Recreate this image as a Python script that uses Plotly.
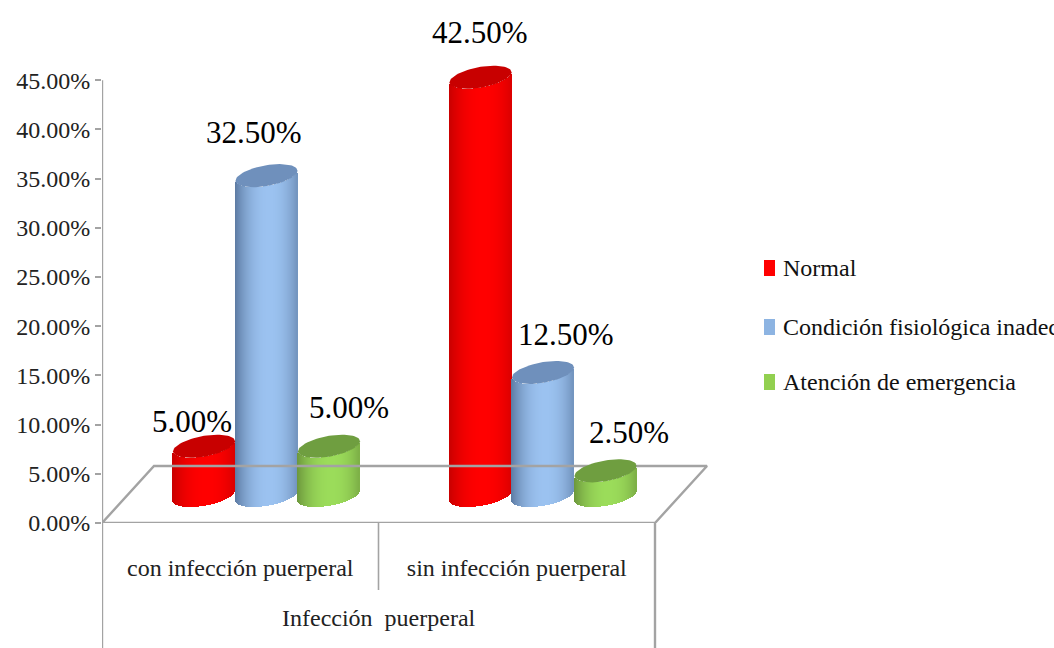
import math
import plotly.graph_objects as go

# Values in percent
categories = ["con infección puerperal", "sin infección puerperal"]
series_names = ["Normal", "Condición fisiológica inadecuada", "Atención de emergencia"]
normal = [5.0, 42.5]
condicion = [32.5, 12.5]
atencion = [5.0, 2.5]
axis_title = "Infección  puerperal"
y_ticks = [0, 5, 10, 15, 20, 25, 30, 35, 40, 45]

# Per-series styling: centre shade, edge shade, cap colour
centre_rgb = [(255, 0, 0), (155, 194, 240), (155, 220, 90)]
edge_rgb = [(200, 0, 0), (92, 122, 162), (108, 150, 60)]
cap_rgb = ["#C80000", "#6F90BC", "#6F9E40"]
swatch_rgb = ["#FF0000", "#8DB4E2", "#92D050"]

# Canvas geometry
W, H = 1054, 648
LEFT, RIGHT, BOTTOM = 102, 720, 523
PX_PER_X = 276.5
PX_PER_Y = 9.84
x_max = (RIGHT - LEFT) / PX_PER_X
y_max = BOTTOM / PX_PER_Y

# Pseudo-3D parameters, in axis units
FLOOR_LIFT = 2.8      # cylinders stand this far back on the floor
HALF_W = 31 / PX_PER_X
ELL_B = 10.4 / PX_PER_Y
ELL_S = 5.0 / PX_PER_Y
GROUP_CENTRE = 0.595
SPACING = 0.226
STRIP = 1 / PX_PER_X
N_STRIPS = 62
GRAY = "#A3A3A3"
FONT = "Liberation Sans Narrow"


def shade(u, centre, edge):
    # Lit band slightly right of the middle, falling off to both rims
    t = min(1.0, abs(u - 0.1) / 1.1) ** 2.2
    return "rgb({},{},{})".format(*[round(c + (e - c) * t) for c, e in zip(centre, edge)])


def cylinder_traces(cx, value, s):
    us = [-1 + (2 * j + 1) / N_STRIPS for j in range(N_STRIPS)]
    xs = [cx + u * HALF_W for u in us]
    base = [FLOOR_LIFT - ELL_B * math.sqrt(1 - u * u) + ELL_S * u for u in us]
    body = go.Bar(
        x=xs, y=[value] * N_STRIPS, base=base, width=STRIP * 1.6,
        marker=dict(color=[shade(u, centre_rgb[s], edge_rgb[s]) for u in us], line=dict(width=0)),
        showlegend=False, hoverinfo="skip",
    )
    ts = [2 * math.pi * k / 72 for k in range(73)]
    cap = go.Scatter(
        x=[cx + HALF_W * math.cos(t) for t in ts],
        y=[value + FLOOR_LIFT + ELL_B * math.sin(t) + ELL_S * math.cos(t) for t in ts],
        mode="lines", fill="toself", fillcolor=cap_rgb[s],
        line=dict(width=0, color=cap_rgb[s]), showlegend=False, hoverinfo="skip",
    )
    return body, cap


fig = go.Figure()

# Floor of the plot, behind the cylinders
floor_depth = (BOTTOM - 466) / PX_PER_Y
floor_run = 52 / PX_PER_X
fig.add_trace(go.Scatter(
    x=[0, floor_run, 2 + floor_run, 2, 0],
    y=[0, floor_depth, floor_depth, 0, 0],
    mode="lines", line=dict(color=GRAY, width=2.4), showlegend=False, hoverinfo="skip",
))

annotations = []
# Label nudges from each cylinder's top, in pixels
label_dx = [[-12, -13, 20], [-1, 23, 23]]
label_dy = [[25, 43, 39], [45, 38, 38]]

for i in range(len(categories)):
    for s, values in enumerate([normal, condicion, atencion]):
        cx = i + GROUP_CENTRE + (s - 1) * SPACING
        body, cap = cylinder_traces(cx, values[i], s)
        fig.add_trace(body)
        fig.add_trace(cap)
        annotations.append(dict(
            x=cx, y=values[i] + FLOOR_LIFT, xref="x", yref="y",
            text=f"{values[i]:.2f}%", showarrow=False,
            xshift=label_dx[i][s], yshift=label_dy[i][s],
            font=dict(family=FONT, size=31, color="#000000"),
        ))

# Axis title under the two-level category band
annotations.append(dict(
    x=1, y=-110 / BOTTOM, xref="x", yref="paper", text=axis_title, showarrow=False,
    font=dict(family=FONT, size=24, color="#222222"),
))

shapes = [
    # Value axis line
    dict(type="line", xref="x", yref="y", x0=0, x1=0, y0=0, y1=45, line=dict(color=GRAY, width=2.4)),
    # Front edge continuing to the zero tick is part of the floor; category separators below it
    dict(type="line", xref="x", yref="paper", x0=0, x1=0, y0=0, y1=-125 / BOTTOM, line=dict(color=GRAY, width=2.4)),
    dict(type="line", xref="x", yref="paper", x0=1, x1=1, y0=0, y1=-67 / BOTTOM, line=dict(color=GRAY, width=1.6)),
    dict(type="line", xref="x", yref="paper", x0=2, x1=2, y0=0, y1=-125 / BOTTOM, line=dict(color=GRAY, width=2.4)),
]

# Legend column: swatch and label per series
legend_y_px = [268, 327, 382]
for name, colour, py in zip(series_names, swatch_rgb, legend_y_px):
    shapes.append(dict(
        type="rect", xref="paper", yref="paper", line=dict(width=0), fillcolor=colour,
        x0=(764 - LEFT) / (RIGHT - LEFT), x1=(775 - LEFT) / (RIGHT - LEFT),
        y0=(BOTTOM - py - 8) / BOTTOM, y1=(BOTTOM - py + 8) / BOTTOM,
    ))
    annotations.append(dict(
        x=(781 - LEFT) / (RIGHT - LEFT), y=(BOTTOM - py) / BOTTOM, xref="paper", yref="paper",
        xanchor="left", yanchor="middle", text=name, showarrow=False,
        font=dict(family=FONT, size=24, color="#111111"),
    ))

fig.update_layout(
    width=W, height=H, autosize=False,
    margin=dict(l=LEFT, r=W - RIGHT, t=0, b=H - BOTTOM, pad=0),
    paper_bgcolor="white", plot_bgcolor="white",
    barmode="overlay", bargap=0, showlegend=False,
    shapes=shapes, annotations=annotations,
    xaxis=dict(
        range=[0, x_max], showgrid=False, zeroline=False, showline=False,
        tickmode="array", tickvals=[0.5, 1.5], ticktext=categories,
        ticks="", ticklabelstandoff=28, fixedrange=True,
        tickfont=dict(family=FONT, size=24, color="#222222"),
    ),
    yaxis=dict(
        range=[0, y_max], showgrid=False, zeroline=False, showline=False,
        tickmode="array", tickvals=y_ticks, ticktext=[f"{v:.2f}%" for v in y_ticks],
        ticks="outside", ticklen=6, tickwidth=2.4, tickcolor=GRAY, fixedrange=True,
        tickfont=dict(family=FONT, size=24, color="#222222"),
    ),
)

fig.write_html("out.html", config=dict(displayModeBar=False))
